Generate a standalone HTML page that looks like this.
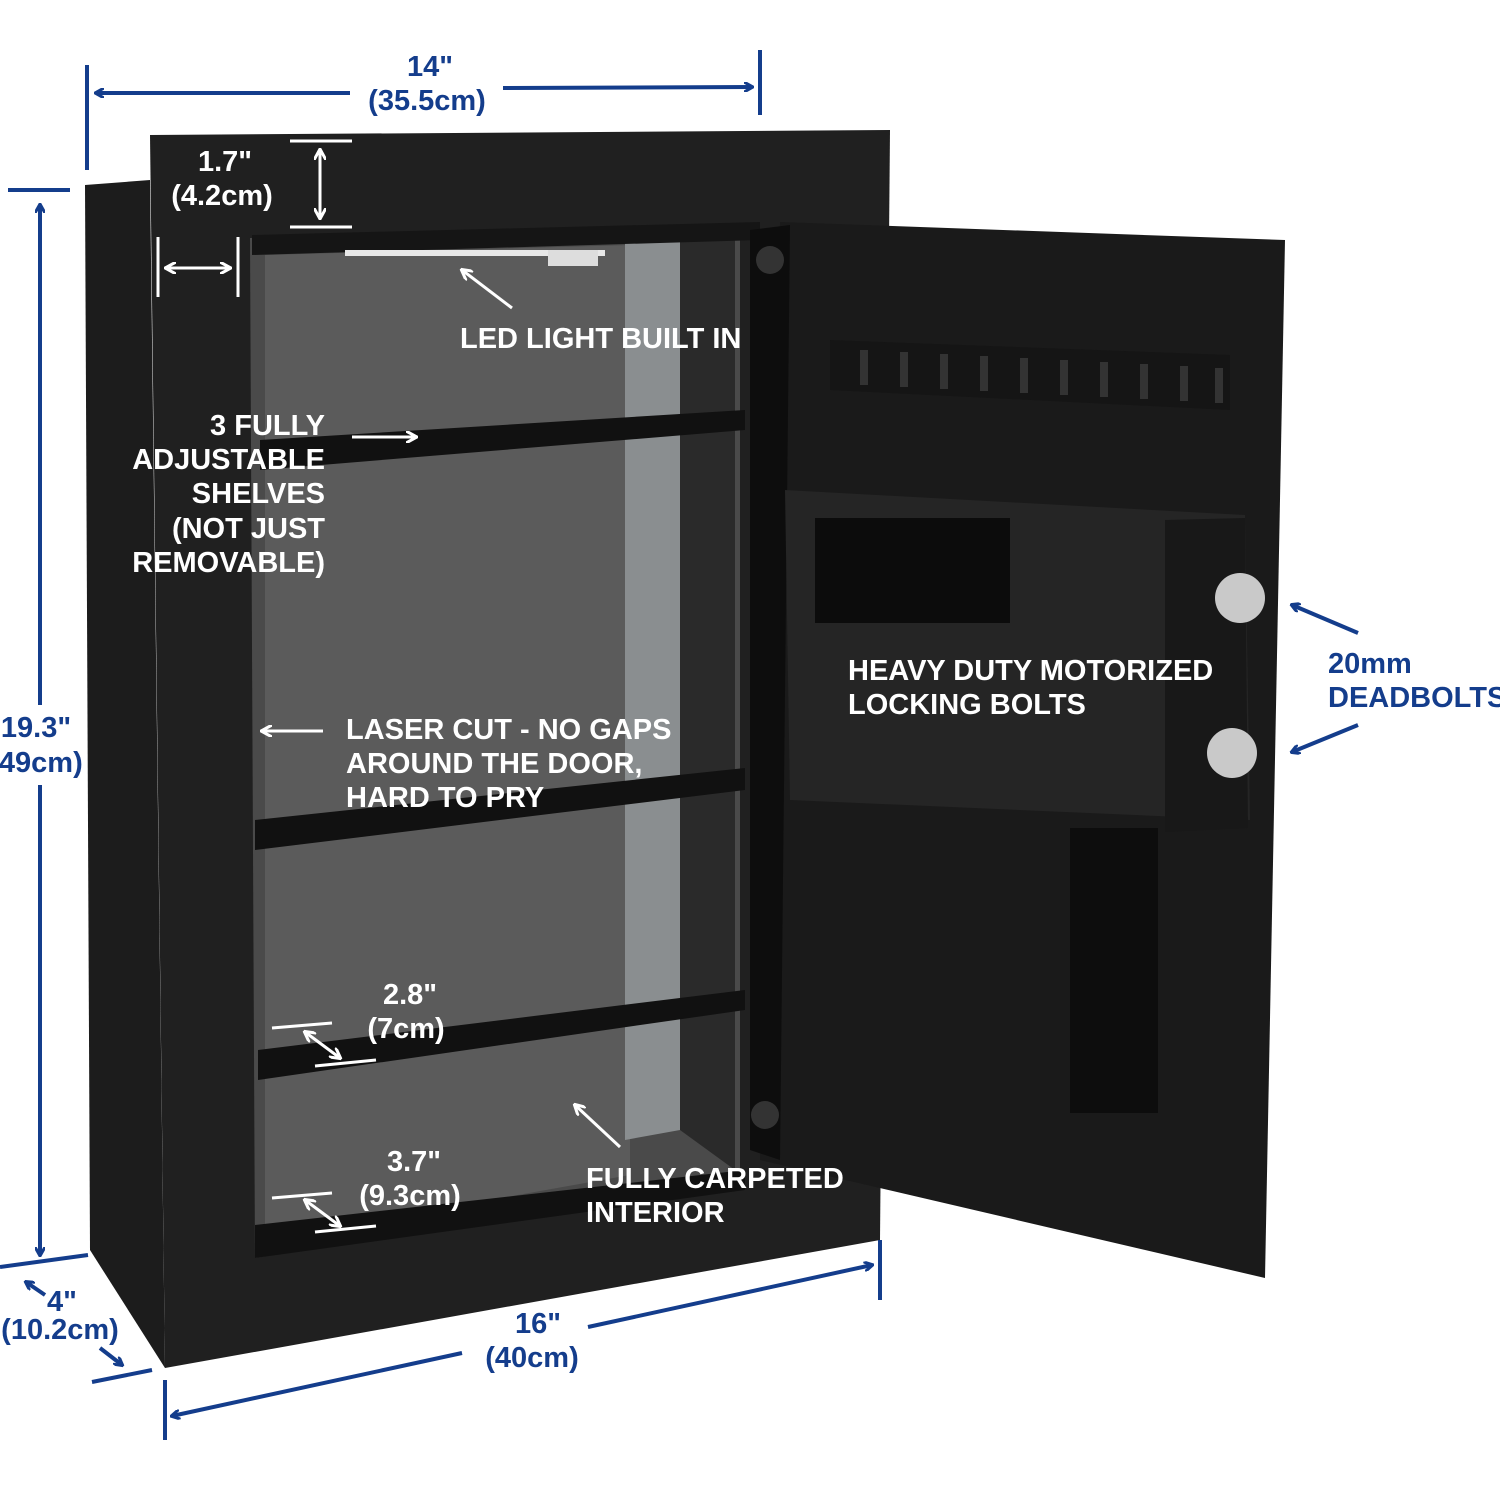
<!DOCTYPE html>
<html><head><style>
body{margin:0;background:#fff;}
svg{display:block;}
text{font-family:"Liberation Sans",sans-serif;font-weight:bold;}
</style></head><body>
<svg width="1500" height="1500" viewBox="0 0 1500 1500" xmlns="http://www.w3.org/2000/svg">
<defs>
<marker id="ab" markerWidth="10" markerHeight="10" refX="8" refY="5" orient="auto-start-reverse" markerUnits="userSpaceOnUse"><path d="M0,0 L9,5 L0,10" fill="none" stroke="#143d8c" stroke-width="3"/></marker>
<marker id="aw" markerWidth="12" markerHeight="12" refX="10" refY="6" orient="auto-start-reverse" markerUnits="userSpaceOnUse"><path d="M0,0 L11,6 L0,12" fill="none" stroke="#fff" stroke-width="3"/></marker>
</defs>
<rect width="1500" height="1500" fill="#fff"/>
<polygon points="85,185 150,180 165,1368 90,1250" fill="#1c1c1c"/>
<polygon points="150,135 890,130 880,1240 165,1368" fill="#202020"/>
<polygon points="250,238 740,228 740,1180 255,1258" fill="#4a4a4a"/>
<polygon points="265,255 630,245 630,1175 265,1240" fill="#5b5b5b"/>
<polygon points="625,240 680,240 680,1130 625,1140" fill="#8a8e90"/>
<polygon points="680,240 735,235 735,1170 680,1130" fill="#2a2a2a"/>
<polygon points="252,235 760,222 760,240 252,255" fill="#151515"/>
<rect x="345" y="250" width="260" height="6" fill="#e8e8e8"/>
<rect x="548" y="250" width="50" height="16" fill="#ddd"/>
<polygon points="260,440 745,410 745,430 260,470" fill="#111"/>
<polygon points="255,820 745,768 745,790 255,850" fill="#111"/>
<polygon points="258,1050 745,990 745,1010 258,1080" fill="#111"/>
<polygon points="255,1225 745,1170 745,1190 255,1258" fill="#111"/>
<polygon points="780,222 1285,240 1265,1278 760,1160" fill="#1a1a1a"/>
<polygon points="750,230 790,225 780,1160 750,1150" fill="#0d0d0d"/>
<polygon points="830,340 1230,355 1230,410 830,390" fill="#151515"/>
<g fill="#333">
<rect x="860" y="350" width="8" height="35"/><rect x="900" y="352" width="8" height="35"/><rect x="940" y="354" width="8" height="35"/><rect x="980" y="356" width="8" height="35"/><rect x="1020" y="358" width="8" height="35"/><rect x="1060" y="360" width="8" height="35"/><rect x="1100" y="362" width="8" height="35"/><rect x="1140" y="364" width="8" height="35"/><rect x="1180" y="366" width="8" height="35"/><rect x="1215" y="368" width="8" height="35"/>
</g>
<polygon points="785,490 1245,515 1250,820 790,800" fill="#252525"/>
<polygon points="1165,520 1245,518 1248,828 1165,832" fill="#181818"/>
<rect x="815" y="518" width="195" height="105" fill="#0c0c0c"/>
<circle cx="1240" cy="598" r="25" fill="#c9c9c9"/>
<circle cx="1232" cy="753" r="25" fill="#c9c9c9"/>
<rect x="1070" y="828" width="88" height="285" fill="#0d0d0d"/>
<circle cx="770" cy="260" r="14" fill="#333"/><circle cx="765" cy="1115" r="14" fill="#333"/>
<g stroke="#fff" stroke-width="3" fill="none">
<line x1="290" y1="141" x2="352" y2="141"/><line x1="290" y1="227" x2="352" y2="227"/>
<line x1="320" y1="150" x2="320" y2="218" marker-start="url(#aw)" marker-end="url(#aw)"/>
<line x1="158" y1="237" x2="158" y2="297"/><line x1="238" y1="237" x2="238" y2="297"/>
<line x1="166" y1="268" x2="230" y2="268" marker-start="url(#aw)" marker-end="url(#aw)"/>
<line x1="512" y1="308" x2="462" y2="270" marker-end="url(#aw)"/>
<line x1="352" y1="437" x2="416" y2="437" marker-end="url(#aw)"/>
<line x1="323" y1="731" x2="262" y2="731" marker-end="url(#aw)"/>
<line x1="620" y1="1147" x2="575" y2="1105" marker-end="url(#aw)"/>
<line x1="272" y1="1028" x2="332" y2="1023"/><line x1="315" y1="1066" x2="376" y2="1060"/>
<line x1="305" y1="1032" x2="340" y2="1058" marker-start="url(#aw)" marker-end="url(#aw)"/>
<line x1="272" y1="1198" x2="332" y2="1193"/><line x1="315" y1="1232" x2="376" y2="1226"/>
<line x1="305" y1="1200" x2="340" y2="1226" marker-start="url(#aw)" marker-end="url(#aw)"/>
</g>
<g fill="#fff" font-size="29">
<text x="225" y="171" text-anchor="middle">1.7"</text>
<text x="222" y="205" text-anchor="middle">(4.2cm)</text>
<text x="460" y="348">LED LIGHT BUILT IN</text>
<g text-anchor="end"><text x="325" y="435">3 FULLY</text><text x="325" y="469">ADJUSTABLE</text><text x="325" y="503">SHELVES</text><text x="325" y="538">(NOT JUST</text><text x="325" y="572">REMOVABLE)</text></g>
<text x="346" y="739">LASER CUT - NO GAPS</text><text x="346" y="773">AROUND THE DOOR,</text><text x="346" y="807">HARD TO PRY</text>
<text x="848" y="680">HEAVY DUTY MOTORIZED</text><text x="848" y="714">LOCKING BOLTS</text>
<text x="410" y="1004" text-anchor="middle">2.8"</text><text x="406" y="1038" text-anchor="middle">(7cm)</text>
<text x="414" y="1171" text-anchor="middle">3.7"</text><text x="410" y="1205" text-anchor="middle">(9.3cm)</text>
<text x="586" y="1188">FULLY CARPETED</text><text x="586" y="1222">INTERIOR</text>
</g>
<g stroke="#143d8c" stroke-width="4" fill="none">
<line x1="87" y1="65" x2="87" y2="170"/><line x1="760" y1="50" x2="760" y2="115"/>
<line x1="96" y1="93" x2="350" y2="93" marker-start="url(#ab)"/><line x1="503" y1="88" x2="752" y2="87" marker-end="url(#ab)"/>
<line x1="8" y1="190" x2="70" y2="190"/><line x1="0" y1="1267" x2="88" y2="1255"/>
<line x1="40" y1="205" x2="40" y2="705" marker-start="url(#ab)"/><line x1="40" y1="785" x2="40" y2="1255" marker-end="url(#ab)"/>
<line x1="165" y1="1380" x2="165" y2="1440"/><line x1="880" y1="1240" x2="880" y2="1300"/>
<line x1="172" y1="1416" x2="462" y2="1353" marker-start="url(#ab)"/><line x1="588" y1="1327" x2="872" y2="1265" marker-end="url(#ab)"/>
<line x1="92" y1="1382" x2="152" y2="1370"/>
<line x1="45" y1="1295" x2="26" y2="1282" marker-end="url(#ab)"/><line x1="100" y1="1348" x2="122" y2="1365" marker-end="url(#ab)"/>
<line x1="1358" y1="633" x2="1292" y2="605" marker-end="url(#ab)"/><line x1="1358" y1="725" x2="1292" y2="752" marker-end="url(#ab)"/>
</g>
<g fill="#143d8c" font-size="29">
<text x="430" y="76" text-anchor="middle">14"</text><text x="427" y="110" text-anchor="middle">(35.5cm)</text>
<text x="36" y="737" text-anchor="middle">19.3"</text><text x="36" y="772" text-anchor="middle">(49cm)</text>
<text x="62" y="1311" text-anchor="middle">4"</text><text x="60" y="1339" text-anchor="middle">(10.2cm)</text>
<text x="538" y="1333" text-anchor="middle">16"</text><text x="532" y="1367" text-anchor="middle">(40cm)</text>
<text x="1328" y="673">20mm</text><text x="1328" y="707">DEADBOLTS</text>
</g>
</svg>
</body></html>
